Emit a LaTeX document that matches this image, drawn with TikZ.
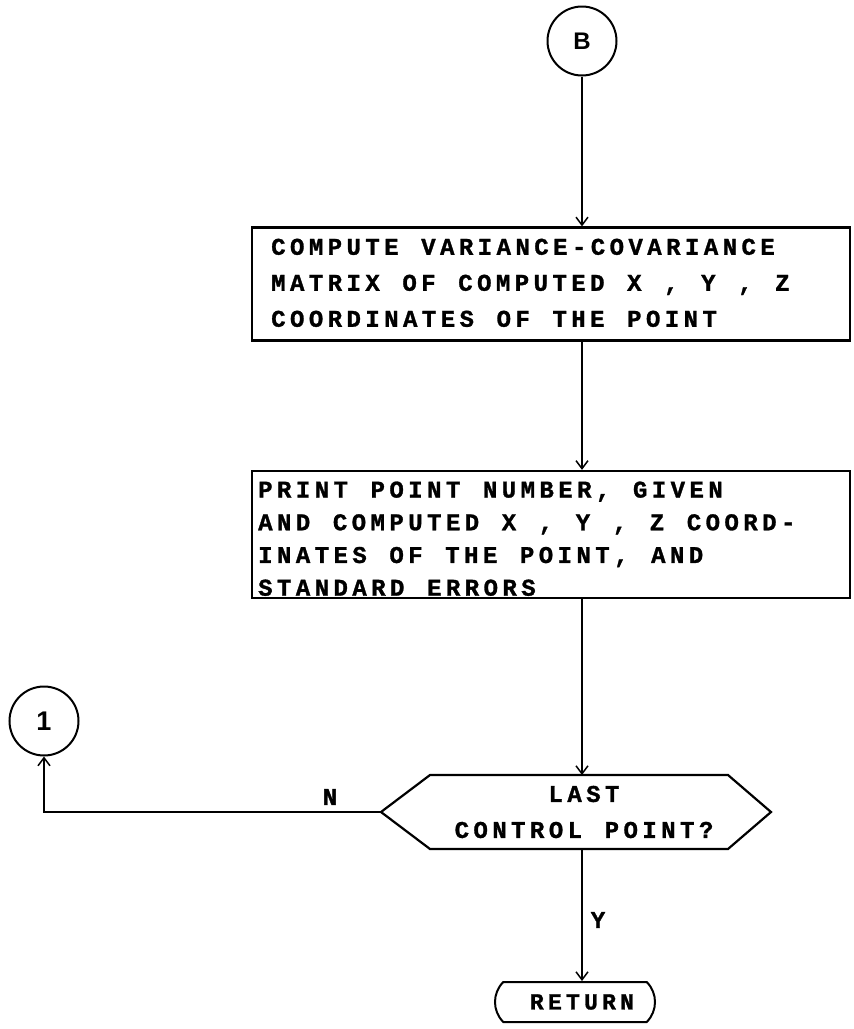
\documentclass[tikz,border=0pt]{standalone}
\usepackage{fontspec}
\usetikzlibrary{arrows.meta,shapes.misc}
\newfontfamily\dmfont[LetterSpace=18.5,WordSpace=1.2,BoldFeatures={FakeBold=1.2}]{Liberation Mono}
\newfontfamily\lblfont{Liberation Sans}
\begin{document}
\begin{tikzpicture}[x=1pt,y=-1pt,
  txt/.style={font=\dmfont\bfseries\fontsize{24}{36}\selectfont, inner sep=0pt, align=left},
  ctxt/.style={font=\dmfont\bfseries\fontsize{24}{36}\selectfont, inner sep=0pt, align=center},
  procbox/.style={draw, line width=2.2pt, minimum width=598pt, inner sep=0pt},
  conn/.style={draw, line width=2pt, minimum size=69pt, circle, inner sep=0pt,
               font=\lblfont\bfseries\fontsize{24}{24}\selectfont},
  arr/.style={line width=1.5pt, -{Straight Barb[length=8pt,width=12pt,line width=1.5pt]}},
]
\useasboundingbox (0,0) rectangle (854,1029);

\node[conn] (B) at (582,41) {B};

\node[procbox, minimum height=113pt] (c1) at (551,284) {};
\node[txt, anchor=north west] (t1) at (271,238.5) {COMPUTE VARIANCE-COVARIANCE\\MATRIX OF COMPUTED X , Y , Z\\COORDINATES OF THE POINT};

\node[procbox, minimum height=127pt] (c2) at (551,534.5) {};
\node[txt, anchor=north west, font=\dmfont\bfseries\fontsize{24}{32.7}\selectfont] (t2) at (258,481.3) {PRINT POINT NUMBER, GIVEN\\AND COMPUTED X , Y , Z COORD-\\INATES OF THE POINT, AND\\STANDARD ERRORS};

\coordinate (hL) at (381,812);
\coordinate (hR) at (771,812);
\coordinate (hT) at (582,775);
\coordinate (hB) at (582,849);
\draw[line width=2.2pt, line join=miter] (hL) -- (430,775) -- (728,775) -- (hR) -- (728,849) -- (430,849) -- cycle;
\node[ctxt] (dec) at (584,812) {LAST\\CONTROL POINT?};

\node[conn, font=\lblfont\bfseries\fontsize{27}{27}\selectfont] (one) at (44,721) {1};

\node[draw, line width=2pt, rounded rectangle, rounded rectangle arc length=90,
      minimum width=160pt, minimum height=40pt, inner sep=0pt,
      font=\dmfont\bfseries\fontsize{23}{23}\selectfont] (ret) at (575,1002) {\hspace*{14pt}RETURN};

\draw[arr] (B) -- (B |- c1.north);
\draw[arr] (B |- c1.south) -- (B |- c2.north);
\draw[arr] (B |- c2.south) -- (hT);
\draw[arr] (hL) -| (one.south);
\draw[arr] (hB) -- (hB |- ret.north);

\node[txt] (nlab) at (330,797) {N};
\node[txt] (ylab) at (598,920) {Y};
\end{tikzpicture}
\end{document}
